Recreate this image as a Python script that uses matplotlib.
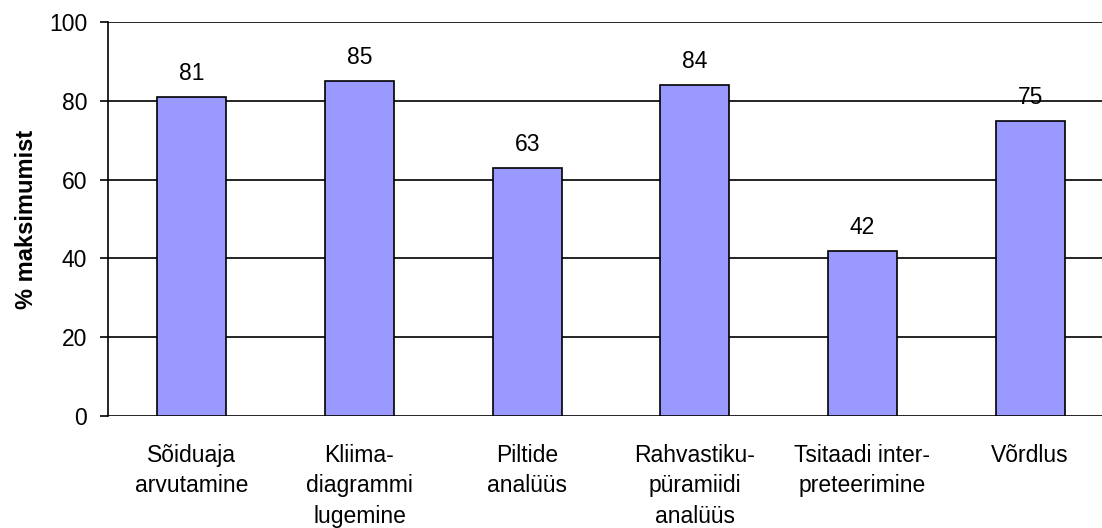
import matplotlib
matplotlib.use('Agg')
import matplotlib.pyplot as plt
import numpy as np

plt.rcParams['font.family'] = ['Liberation Sans', 'DejaVu Sans']

categories = ['Sõiduaja\narvutamine', 'Kliima-\ndiagrammi\nlugemine', 'Piltide\nanalüüs',
              'Rahvastiku-\npüramiidi\nanalüüs', 'Tsitaadi inter-\npreteerimine', 'Võrdlus']
values = [81, 85, 63, 84, 42, 75]
yticks = [0, 20, 40, 60, 80, 100]

fig = plt.figure(figsize=(11.02, 5.28), dpi=100)
ax = fig.add_axes([108 / 1102, 1 - 416 / 528, 1006 / 1102, 394 / 528])

x = np.arange(len(categories))
bars = ax.bar(x, values, width=0.41, color='#9999FF', edgecolor='black', linewidth=1.2, zorder=3)
for b, v in zip(bars, values):
    ax.annotate(str(v), (b.get_x() + b.get_width() / 2, v), xytext=(0, 8.5), textcoords='offset points',
                ha='center', va='bottom', fontsize=16.5, zorder=4)

ax.set_xlim(-0.5, len(categories) - 0.5)
ax.set_ylim(0, 100)
ax.set_yticks(yticks)
ax.yaxis.grid(True, color='black', linewidth=1.2, zorder=0)
ax.set_xticks(x)
ax.set_xticklabels(categories, fontsize=16.5, linespacing=1.42, va='top')
ax.tick_params(axis='x', length=0, pad=20)
ax.tick_params(axis='y', length=6, width=1.2, labelsize=16.5, pad=9)
for s in ['top', 'right', 'bottom']:
    ax.spines[s].set_visible(False)
ax.spines['left'].set_linewidth(1.2)
ax.set_ylabel('% maksimumist', fontsize=17, fontweight='bold', labelpad=8)

fig.savefig('out.png', dpi=100)
